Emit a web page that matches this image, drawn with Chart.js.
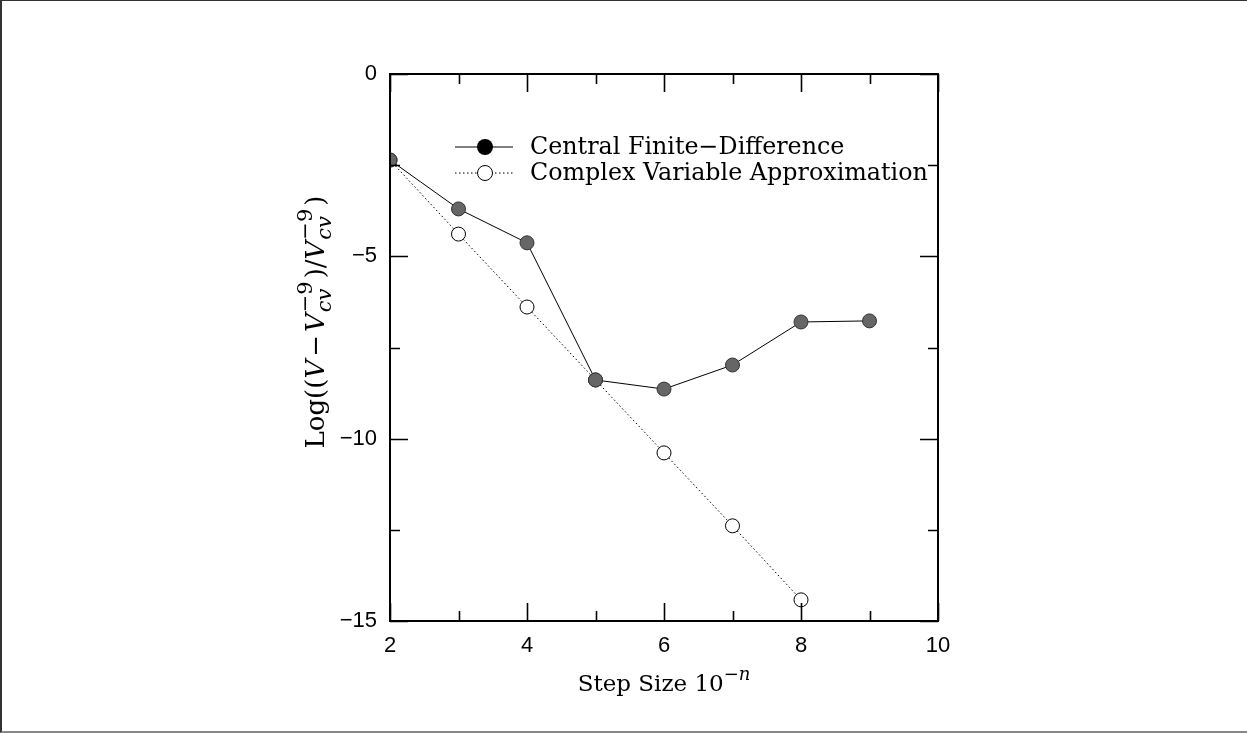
<!DOCTYPE html>
<html>
<head>
<meta charset="utf-8">
<script src="https://cdn.jsdelivr.net/npm/chart.js@4.4.0/dist/chart.umd.min.js"></script>
<style>
  html, body { margin: 0; padding: 0; background: #fff; }
  #wrap { position: relative; width: 1247px; height: 733px; }
  #frame {
    position: absolute; left: 0; top: 0; width: 1245px; height: 730px;
    border-left: 2px solid #333; border-top: 1px solid #333; border-bottom: 2px solid #888;
    pointer-events: none;
  }
</style>
</head>
<body>
<div id="wrap">
  <canvas id="myChart" width="1247" height="733"></canvas>
  <div id="frame"></div>
</div>
<script>
const steps = [2, 3, 4, 5, 6, 7, 8, 9];
const centralFD = [-2.36, -3.70, -4.63, -8.39, -8.64, -7.98, -6.80, -6.77];
const complexVar = [-2.36, -4.39, -6.39, -8.39, -10.39, -12.39, -14.42];

const xMajor = [2, 4, 6, 8, 10];
const xMinor = [3, 5, 7, 9];
const yMajor = [0, -5, -10, -15];
const yMinor = [-2.5, -7.5, -12.5];

const legendLabels = ["Central Finite\u2212Difference", "Complex Variable Approximation"];

const SERIF = '"DejaVu Serif", serif';
const SANS = '"Liberation Sans", sans-serif';

// frame, inward ticks, legend and axis titles
const decor = {
	id: "decor",
	afterDraw(chart) {
		const ctx = chart.ctx;
		const a = chart.chartArea;
		const xs = chart.scales.x, ys = chart.scales.y;
		ctx.save();
		ctx.strokeStyle = "#000";
		ctx.lineWidth = 2;
		ctx.strokeRect(a.left, a.top, a.right - a.left, a.bottom - a.top);

		ctx.lineWidth = 1.6;
		ctx.beginPath();
		const tickX = (vals, len) => {
			vals.forEach(v => {
				const px = Math.round(xs.getPixelForValue(v)) + 0.5;
				ctx.moveTo(px, a.bottom); ctx.lineTo(px, a.bottom - len);
				ctx.moveTo(px, a.top); ctx.lineTo(px, a.top + len);
			});
		};
		const tickY = (vals, len) => {
			vals.forEach(v => {
				const py = Math.round(ys.getPixelForValue(v)) + 0.5;
				ctx.moveTo(a.left, py); ctx.lineTo(a.left + len, py);
				ctx.moveTo(a.right, py); ctx.lineTo(a.right - len, py);
			});
		};
		tickX(xMajor, 18); tickX(xMinor, 10);
		tickY(yMajor, 18); tickY(yMinor, 10);
		ctx.stroke();

		// legend
		ctx.font = "23.8px " + SERIF;
		ctx.fillStyle = "#000";
		ctx.textBaseline = "middle";
		const lx0 = a.left + 65, lx1 = a.left + 123, mx = a.left + 95;
		const rows = [a.top + 73, a.top + 99];
		ctx.lineWidth = 1;
		ctx.setLineDash([]);
		ctx.beginPath(); ctx.moveTo(lx0, rows[0]); ctx.lineTo(lx1, rows[0]); ctx.stroke();
		ctx.beginPath(); ctx.arc(mx, rows[0], 8, 0, Math.PI * 2); ctx.fillStyle = "#000"; ctx.fill();
		ctx.setLineDash([1.5, 2.5]);
		ctx.beginPath(); ctx.moveTo(lx0, rows[1]); ctx.lineTo(lx1, rows[1]); ctx.stroke();
		ctx.setLineDash([]);
		ctx.beginPath(); ctx.arc(mx, rows[1], 7.5, 0, Math.PI * 2);
		ctx.fillStyle = "#fff"; ctx.fill(); ctx.strokeStyle = "#000"; ctx.stroke();
		ctx.fillStyle = "#000";
		ctx.textAlign = "left";
		ctx.fillText(legendLabels[0], a.left + 140, rows[0] + 1);
		ctx.fillText(legendLabels[1], a.left + 140, rows[1] + 1);

		// axis titles with sub/superscripts
		ctx.textBaseline = "alphabetic";
		const scriptRatio = 0.8;
		const runs = (parts, size) => parts.reduce((w, p) => {
			if (p.stack) return w;
			ctx.font = (p.it ? "italic " : "") + (p.s ? Math.round(size * scriptRatio) : size) + "px " + SERIF;
			return w + ctx.measureText(p.t).width + (p.gap || 0);
		}, 0);
		const drawRuns = (parts, x, y, size) => {
			parts.forEach(p => {
				const sz = p.s ? Math.round(size * scriptRatio) : size;
				ctx.font = (p.it ? "italic " : "") + sz + "px " + SERIF;
				ctx.fillText(p.t, x, y + (p.dy || 0));
				if (!p.stack) x += ctx.measureText(p.t).width + (p.gap || 0);
			});
		};
		const xt = [{ t: "Step Size 10" }, { t: "\u2212", s: 1, dy: -11 }, { t: "n", s: 1, it: 1, dy: -11 }];
		const xw = runs(xt, 23);
		drawRuns(xt, (a.left + a.right) / 2 - xw / 2, 691, 23);

		ctx.translate(324, 322);
		ctx.rotate(-Math.PI / 2);
		const yt = [
			{ t: "Log((" }, { t: "V", it: 1, gap: 3 }, { t: "\u2212", gap: 3 }, { t: "V", it: 1, gap: 1 },
			{ t: "cv", it: 1, s: 1, dy: 7, stack: 1 }, { t: "\u22129", s: 1, dy: -12, gap: 3 },
			{ t: ")/" }, { t: "V", it: 1, gap: 1 },
			{ t: "cv", it: 1, s: 1, dy: 7, stack: 1 }, { t: "\u22129", s: 1, dy: -12, gap: 3 },
			{ t: ")" }
		];
		const yw = runs(yt, 26);
		drawRuns(yt, -yw / 2, 0, 26);
		ctx.restore();
	},
};

const ctx = document.getElementById("myChart");
const chart = new Chart(ctx, {
	type: "line",
	data: {
		datasets: [
			{
				label: legendLabels[0],
				data: steps.map((s, i) => ({ x: s, y: centralFD[i] })),
				borderColor: "#000",
				borderWidth: 1,
				pointRadius: 7,
				pointBackgroundColor: "#666",
				pointBorderColor: "#333",
				pointBorderWidth: 1,
				tension: 0,
				clip: 0,
			},
			{
				label: legendLabels[1],
				data: complexVar.map((v, i) => ({ x: steps[i], y: v })),
				borderColor: "#000",
				borderWidth: 1,
				borderDash: [1.5, 2.5],
				pointRadius: 7,
				pointBackgroundColor: "#fff",
				pointBorderColor: "#000",
				pointBorderWidth: 1,
				tension: 0,
				clip: 0,
			},
		],
	},
	options: {
		responsive: false,
		animation: false,
		layout: { padding: { top: 74, right: 309, left: 0, bottom: 0 } },
		plugins: { legend: { display: false }, tooltip: { enabled: false } },
		scales: {
			x: {
				type: "linear",
				min: 2,
				max: 10,
				afterFit: s => { s.height = 112; },
				grid: { display: false, drawTicks: false },
				border: { display: false },
				ticks: {
					stepSize: 2,
					padding: 12,
					color: "#000",
					font: { family: SANS, size: 22 },
				},
			},
			y: {
				min: -15,
				max: 0,
				afterFit: s => { s.width = 390; },
				grid: { display: false, drawTicks: false },
				border: { display: false },
				ticks: {
					stepSize: 5,
					padding: 13,
					color: "#000",
					font: { family: SANS, size: 22 },
					callback: v => String(v).replace("-", "\u2212"),
				},
			},
		},
	},
	plugins: [decor],
});
</script>
</body>
</html>
